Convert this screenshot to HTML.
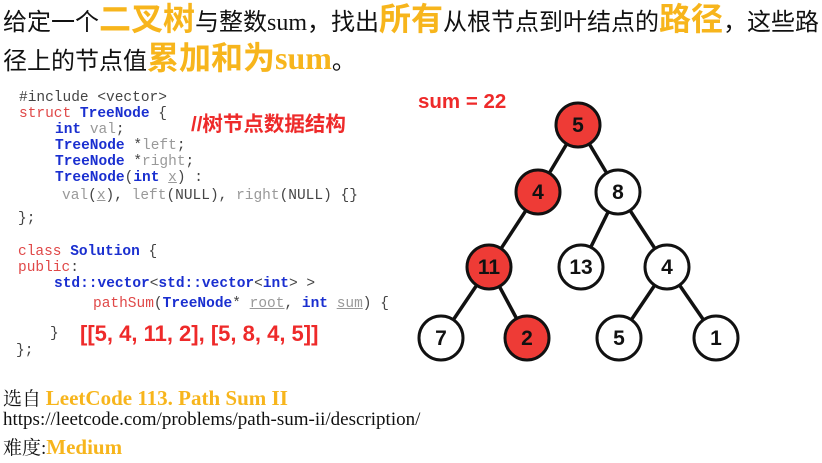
<!DOCTYPE html>
<html><head><meta charset="utf-8"><style>
body{margin:0;width:822px;height:463px;background:#fff;position:relative;overflow:hidden;font-family:"Liberation Sans","Noto Sans CJK SC",sans-serif}
.a{position:absolute;white-space:nowrap}
.h{font-size:24px;color:#111;line-height:32px}
.o{color:#f7b51c;font-weight:bold;font-size:32px}
.os{color:#f7b51c;font-weight:bold;font-family:"Liberation Serif",serif;font-size:32px}
.c{font-family:"Liberation Mono",monospace;font-size:14.5px;color:#444;line-height:16px}
.k{color:#e04848}.b{color:#1a2fd0;font-weight:bold}.g{color:#999}.u{text-decoration:underline}
.r{color:#ee2a2a;font-weight:bold}
.f{font-family:"Liberation Serif","Noto Serif CJK SC",serif;font-size:19px;color:#111}
</style></head><body>
<div class="a h" style="left:3px;top:3px">给定一个<span class="o">二叉树</span>与整数<span style="font-family:'Liberation Serif',serif">sum</span>，找出<span class="o">所有</span>从根节点到叶结点的<span class="o">路径</span>，这些路</div>
<div class="a h" style="left:3px;top:42px">径上的节点值<span class="o">累加和为</span><span class="os">sum</span>。</div>

<div class="a c" style="left:19px;top:90px">#include &lt;vector&gt;</div>
<div class="a c" style="left:19px;top:106px"><span class="k">struct</span> <span class="b">TreeNode</span> {</div>
<div class="a c" style="left:55px;top:122px"><span class="b">int</span> <span class="g">val</span>;</div>
<div class="a c" style="left:55px;top:138px"><span class="b">TreeNode</span> *<span class="g">left</span>;</div>
<div class="a c" style="left:55px;top:154px"><span class="b">TreeNode</span> *<span class="g">right</span>;</div>
<div class="a c" style="left:55px;top:170px"><span class="b">TreeNode</span>(<span class="b">int</span> <span class="g u">x</span>) :</div>
<div class="a c" style="left:62px;top:188px"><span class="g">val</span>(<span class="g u">x</span>), <span class="g">left</span>(NULL), <span class="g">right</span>(NULL) {}</div>
<div class="a c" style="left:18px;top:211px">};</div>
<div class="a c" style="left:18px;top:244px"><span class="k">class</span> <span class="b">Solution</span> {</div>
<div class="a c" style="left:18px;top:260px"><span class="k">public</span>:</div>
<div class="a c" style="left:54px;top:276px"><span class="b">std::vector</span>&lt;<span class="b">std::vector</span>&lt;<span class="b">int</span>&gt; &gt;</div>
<div class="a c" style="left:93px;top:296px"><span class="k">pathSum</span>(<span class="b">TreeNode</span>* <span class="g u">root</span>, <span class="b">int</span> <span class="g u">sum</span>) {</div>
<div class="a c" style="left:50px;top:326px">}</div>
<div class="a c" style="left:16px;top:343px">};</div>
<div class="a r" style="left:191px;top:107px;font-size:20.5px">//树节点数据结构</div>
<div class="a r" style="left:80px;top:321px;font-size:22px">[[5, 4, 11, 2], [5, 8, 4, 5]]</div>
<div class="a r" style="left:418px;top:90px;font-size:20.5px">sum = 22</div>

<svg class="a" style="left:0;top:0" width="822" height="463">
<g stroke="#111" stroke-width="3.5">
<line x1="578" y1="125" x2="538" y2="192"/><line x1="578" y1="125" x2="618" y2="192"/>
<line x1="538" y1="192" x2="489" y2="267"/><line x1="618" y1="192" x2="581" y2="267"/><line x1="618" y1="192" x2="667" y2="267"/>
<line x1="489" y1="267" x2="441" y2="338"/><line x1="489" y1="267" x2="527" y2="338"/>
<line x1="667" y1="267" x2="619" y2="338"/><line x1="667" y1="267" x2="716" y2="338"/>
</g>
<g stroke="#111" stroke-width="3" font-family="Liberation Sans,sans-serif" font-weight="bold" font-size="21" text-anchor="middle">
<circle cx="578" cy="125" r="22" fill="#ee3b36"/><circle cx="538" cy="192" r="22" fill="#ee3b36"/><circle cx="618" cy="192" r="22" fill="#fff"/>
<circle cx="489" cy="267" r="22" fill="#ee3b36"/><circle cx="581" cy="267" r="22" fill="#fff"/><circle cx="667" cy="267" r="22" fill="#fff"/>
<circle cx="441" cy="338" r="22" fill="#fff"/><circle cx="527" cy="338" r="22" fill="#ee3b36"/><circle cx="619" cy="338" r="22" fill="#fff"/><circle cx="716" cy="338" r="22" fill="#fff"/>
<g stroke="none" fill="#111">
<text x="578" y="132">5</text><text x="538" y="199">4</text><text x="618" y="199">8</text>
<text x="489" y="274">11</text><text x="581" y="274">13</text><text x="667" y="274">4</text>
<text x="441" y="345">7</text><text x="527" y="345">2</text><text x="619" y="345">5</text><text x="716" y="345">1</text>
</g></g>
</svg>

<div class="a f" style="left:3px;top:384px">选自 <span style="color:#f7b51c;font-weight:bold;font-size:21px">LeetCode 113. Path Sum II</span></div>
<div class="a f" style="left:3px;top:409px">https://leetcode.com/problems/path-sum-ii/description/</div>
<div class="a f" style="left:3px;top:433px">难度:<span style="color:#f7b51c;font-weight:bold;font-size:21px">Medium</span></div>
</body></html>
